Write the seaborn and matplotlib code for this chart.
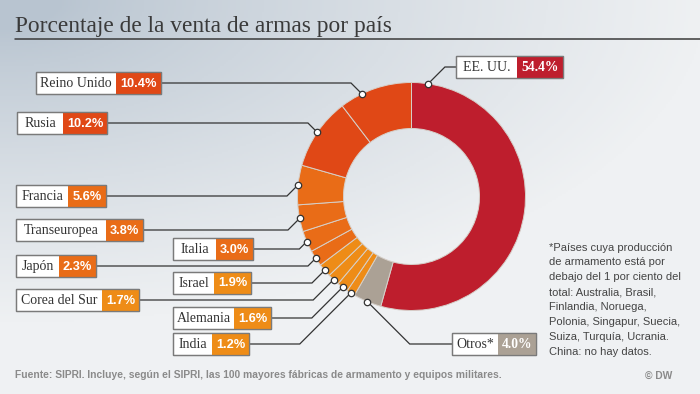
import numpy as np
import matplotlib
matplotlib.use("Agg")
import matplotlib.pyplot as plt
from matplotlib.patches import Rectangle
import seaborn as sns

# ---------------- data ----------------
countries = ["EE. UU.", "Otros*", "India", "Alemania", "Corea del Sur", "Israel",
             "Japón", "Italia", "Transeuropea", "Francia", "Rusia", "Reino Unido"]
shares = [54.4, 4.0, 1.2, 1.6, 1.7, 1.9, 2.3, 3.0, 3.8, 5.6, 10.2, 10.4]
colors = ["#be1e2d", "#aba195", "#ee8c17", "#ee8c17", "#ee8c17", "#ee8c17",
          "#e96c17", "#e96c17", "#e96c17", "#e96c17", "#e04816", "#e04816"]

title = "Porcentaje de la venta de armas por país"
source = "Fuente: SIPRI. Incluye, según el SIPRI, las 100 mayores fábricas de armamento y equipos militares."
credit = "© DW"
footnote = ["*Países cuya producción", "de armamento está por", "debajo del 1 por ciento del",
            "total: Australia, Brasil,", "Finlandia, Noruega,", "Polonia, Singapur, Suecia,",
            "Suiza, Turquía, Ucrania.", "China: no hay datos."]

# ---------------- layout (pixels, top-left origin) ----------------
W, H = 700, 394
CX, CY, R, RING = 411.5, 196.5, 114, 46
box_h = 22
boxes = {  # left, top, label width, value width
    "EE. UU.": (456, 56, 61, 46),
    "Otros*": (452, 333, 46, 38),
    "India": (173, 333, 39, 37),
    "Alemania": (173, 307, 61, 37),
    "Corea del Sur": (16, 289, 86, 37),
    "Israel": (173, 272, 41, 37),
    "Japón": (16, 255, 43, 37),
    "Italia": (173, 238, 43, 37),
    "Transeuropea": (16, 219, 90, 37),
    "Francia": (16, 185, 52, 38),
    "Rusia": (17, 112, 46, 44),
    "Reino Unido": (36, 72, 80, 45),
}
anchor_frac = {"EE. UU.": 0.043, "Reino Unido": 0.31}
serif_value = {"EE. UU.", "Otros*"}

sns.set_theme(style="white")
plt.rcParams["font.family"] = ["Liberation Sans", "DejaVu Sans"]

fig = plt.figure(figsize=(W / 100, H / 100), dpi=100)
ax = fig.add_axes([0, 0, 1, 1])


def Y(py):
    return H - py


# background gradient
xx, yy = np.meshgrid(np.linspace(0, W, 350), np.linspace(0, H, 197))
d = np.sqrt((xx / 720.0) ** 2 + (yy / 330.0) ** 2)
t = np.clip((d - 0.08) / 0.9, 0, 1) ** 0.8
dark = np.array([184, 196, 208]) / 255.0
light = np.array([239, 241, 243]) / 255.0
img = dark[None, None, :] * (1 - t[..., None]) + light[None, None, :] * t[..., None]
ax.imshow(img, extent=[0, W, 0, H], origin="upper", zorder=0, aspect="auto")

# donut
ax.pie(shares, colors=colors, startangle=90, counterclock=False, radius=R,
       center=(CX, Y(CY)), frame=True,
       wedgeprops=dict(width=RING, edgecolor="#d6d0ca", linewidth=0.7))
ax.set_aspect("auto")
ax.set_xlim(0, W)
ax.set_ylim(0, H)
ax.axis("off")

# labels with leader lines
total = sum(shares)
cum = 0.0
for name, v, c in zip(countries, shares, colors):
    span = v / total * 360.0
    phi = np.radians(cum + anchor_frac.get(name, 0.5) * span)
    cum += span
    axp = CX + R * np.sin(phi)
    ayp = CY - R * np.cos(phi)
    left, top, lw_, vw = boxes[name]
    right = left + lw_ + vw
    cyb = top + box_h / 2
    dy = abs(ayp - cyb)
    if right < axp:
        ex, bx = axp - dy, right
    else:
        ex, bx = axp + dy, left
    ax.plot([axp, ex, bx], [Y(ayp), Y(cyb), Y(cyb)], color="#333333", lw=0.9,
            zorder=4, solid_joinstyle="miter")
    ax.plot([axp], [Y(ayp)], marker="o", ms=4.6, mfc="white", mec="#333333",
            mew=0.9, zorder=5)
    ax.add_patch(Rectangle((left, Y(top + box_h)), lw_ + vw, box_h, facecolor="white",
                           edgecolor="#7a7a7a", lw=0.9, zorder=6))
    ax.add_patch(Rectangle((left + lw_, Y(top + box_h)), vw, box_h, facecolor=c,
                           edgecolor="none", zorder=7))
    ax.add_patch(Rectangle((left, Y(top + box_h)), lw_ + vw, box_h, facecolor="none",
                           edgecolor="#7a7a7a", lw=0.9, zorder=8))
    ax.text(left + lw_ / 2, Y(cyb) - 0.5, name, ha="center", va="center",
            fontsize=10, family=["Liberation Serif", "DejaVu Serif"], color="#333333", zorder=9)
    if name in serif_value:
        ax.text(left + lw_ + vw / 2, Y(cyb) - 0.5, f"{v:.1f}%", ha="center", va="center",
                fontsize=9.8, family=["Liberation Serif", "DejaVu Serif"], weight="bold",
                color="white", zorder=9)
    else:
        ax.text(left + lw_ + vw / 2, Y(cyb) - 0.5, f"{v:.1f}%", ha="center", va="center",
                fontsize=9.2, weight="bold", color="white", zorder=9)

# title & rule
ax.text(15, Y(31.5), title, ha="left", va="baseline", fontsize=16.8,
        family=["Liberation Serif", "DejaVu Serif"], color="#3a3a3a", zorder=9)
ax.plot([15, W], [Y(39), Y(39)], color="#3a3a3a", lw=1.1, zorder=9)

# footnote
for i, line in enumerate(footnote):
    ax.text(549, Y(250.5 + 14.9 * i), line, ha="left", va="baseline", fontsize=8,
            color="#444444", zorder=9)

# footer
ax.text(15, Y(375.5), source, ha="left", va="center", fontsize=7.35,
        color="#8a8a8a", weight="bold", zorder=9)
ax.text(672, Y(375.5), credit, ha="right", va="center", fontsize=7.35,
        color="#8a8a8a", weight="bold", zorder=9)

fig.savefig("out.png", dpi=100)
